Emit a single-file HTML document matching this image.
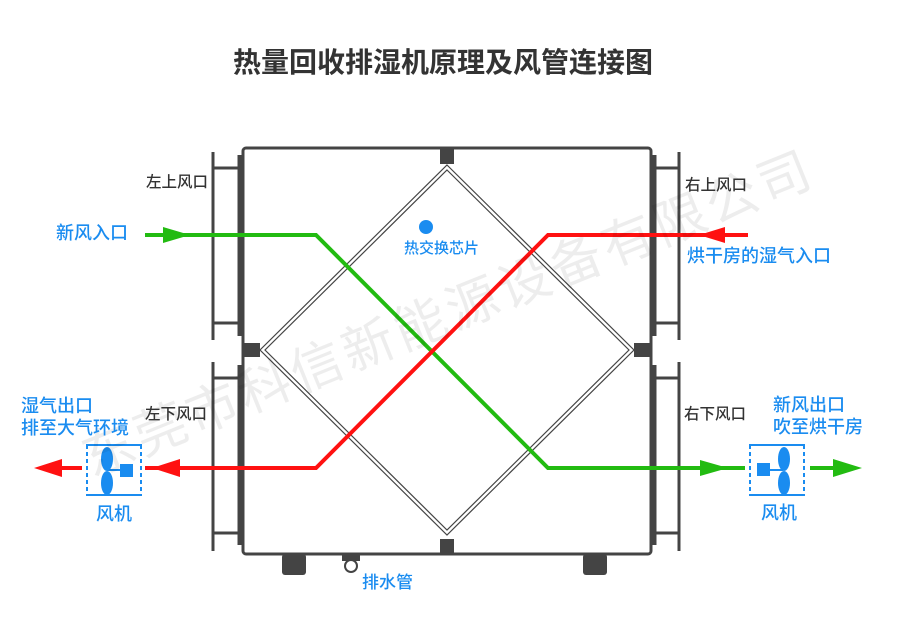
<!DOCTYPE html>
<html><head><meta charset="utf-8"><style>
body{margin:0;width:900px;height:629px;background:#fff;overflow:hidden;position:relative;font-family:"Liberation Sans","Noto Sans CJK SC",sans-serif}
.t{position:absolute;white-space:nowrap;font-weight:500}
.b{color:#1a8cf0;font-size:18px}
.g{color:#333;font-size:15.5px}
</style></head><body>
<div class="t" style="left:0;width:886px;text-align:center;top:41px;font-size:28px;font-weight:bold;color:#333">热量回收排湿机原理及风管连接图</div>
<svg width="900" height="629" style="position:absolute;left:0;top:0">
<g stroke="#444" fill="none">
<rect x="243" y="148" width="408" height="406" rx="3" stroke-width="3"/>
<line x1="240" y1="155" x2="240" y2="336" stroke-width="5"/>
<line x1="240" y1="365" x2="240" y2="545" stroke-width="5"/>
<line x1="654" y1="155" x2="654" y2="336" stroke-width="5"/>
<line x1="654" y1="365" x2="654" y2="545" stroke-width="5"/>
<g stroke-width="3">
<line x1="213" y1="152" x2="213" y2="340"/><line x1="213" y1="362" x2="213" y2="551"/>
<line x1="213" y1="168" x2="240" y2="168"/><line x1="213" y1="323" x2="240" y2="323"/>
<line x1="213" y1="378" x2="240" y2="378"/><line x1="213" y1="533" x2="240" y2="533"/>
<line x1="679" y1="152" x2="679" y2="340"/><line x1="679" y1="362" x2="679" y2="551"/>
<line x1="654" y1="168" x2="679" y2="168"/><line x1="654" y1="323" x2="679" y2="323"/>
<line x1="654" y1="378" x2="679" y2="378"/><line x1="654" y1="533" x2="679" y2="533"/>
</g>
<polygon points="447,165 634,350 447,535 260,350" stroke-width="1.2"/>
<polygon points="447,170 629,350 447,530 265,350" stroke-width="1.2"/>
</g>
<g fill="#444">
<rect x="440" y="148" width="14" height="16"/><rect x="440" y="539" width="14" height="16"/>
<rect x="242" y="343" width="18" height="14"/><rect x="634" y="343" width="18" height="14"/>
<rect x="282" y="554" width="24" height="21" rx="3"/><rect x="583" y="554" width="24" height="21" rx="3"/>
<rect x="342" y="554" width="18" height="7"/>
</g>
<circle cx="351" cy="566" r="6" fill="none" stroke="#444" stroke-width="2"/>
<circle cx="426" cy="227" r="7" fill="#1a8cf0"/>
<polyline points="145,235 316,235 548,468 745,468" fill="none" stroke="#22bb11" stroke-width="4"/>
<polygon points="163,227 190,235 163,243" fill="#22bb11"/>
<polygon points="700,460 728,468 700,476" fill="#22bb11"/>
<line x1="810" y1="468" x2="835" y2="468" stroke="#22bb11" stroke-width="4"/>
<polygon points="833,459 862,468 833,477" fill="#22bb11"/>
<polyline points="748,235 548,235 316,468 145,468" fill="none" stroke="#ff1111" stroke-width="4"/>
<polygon points="725,227 699,235 725,243" fill="#ff1111"/>
<polygon points="180,459 152,468 180,477" fill="#ff1111"/>
<line x1="60" y1="468" x2="82" y2="468" stroke="#ff1111" stroke-width="4"/>
<polygon points="62,459 34,468 62,477" fill="#ff1111"/>
<g stroke="#1a8cf0" fill="none" stroke-width="2">
<line x1="86" y1="445" x2="142" y2="445"/><line x1="86" y1="495" x2="142" y2="495"/>
<line x1="87" y1="445" x2="87" y2="495" stroke-dasharray="4,3"/><line x1="141" y1="445" x2="141" y2="495" stroke-dasharray="4,3"/>
<line x1="749" y1="445" x2="805" y2="445"/><line x1="749" y1="495" x2="805" y2="495"/>
<line x1="750" y1="445" x2="750" y2="495" stroke-dasharray="4,3"/><line x1="804" y1="445" x2="804" y2="495" stroke-dasharray="4,3"/>
<line x1="107" y1="470" x2="124" y2="470"/><line x1="768" y1="470" x2="783" y2="470"/>
</g>
<g fill="#1a8cf0">
<ellipse cx="107" cy="459" rx="6" ry="12"/><ellipse cx="107" cy="483" rx="6" ry="12"/><rect x="120" y="464" width="13" height="13"/>
<ellipse cx="784" cy="459" rx="6" ry="12"/><ellipse cx="784" cy="483" rx="6" ry="12"/><rect x="757" y="463" width="13" height="13"/>
</g>
<text x="455" y="330" transform="rotate(-22 455 330)" text-anchor="middle" font-size="52" fill="rgba(0,0,0,0.07)" font-family="Liberation Sans,Noto Sans CJK SC,sans-serif" letter-spacing="4">东莞市科信新能源设备有限公司</text>
</svg>
<div class="t g" style="left:146px;top:170px">左上风口</div>
<div class="t g" style="left:145px;top:402px">左下风口</div>
<div class="t g" style="left:685px;top:173px">右上风口</div>
<div class="t g" style="left:684px;top:402px">右下风口</div>
<div class="t b" style="left:56px;top:219px">新风入口</div>
<div class="t b" style="left:687px;top:242px">烘干房的湿气入口</div>
<div class="t b" style="left:404px;top:237px;font-size:15px">热交换芯片</div>
<div class="t b" style="left:21px;top:395px;line-height:22px">湿气出口<br>排至大气环境</div>
<div class="t b" style="left:773px;top:394px;line-height:22px">新风出口<br>吹至烘干房</div>
<div class="t b" style="left:96px;top:500px">风机</div>
<div class="t b" style="left:761px;top:499px">风机</div>
<div class="t b" style="left:362px;top:568px;font-size:17px">排水管</div>
</body></html>
